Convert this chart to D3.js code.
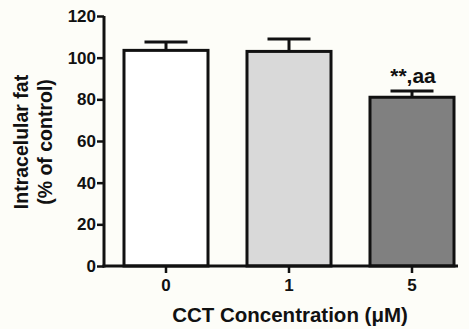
<!DOCTYPE html>
<html><head><meta charset="utf-8">
<script src="https://cdn.jsdelivr.net/npm/d3@7"></script>
<style>body{margin:0;background:#fdfdf8;}svg{display:block;}text{font-family:Arial,"Liberation Sans",sans-serif;font-weight:bold;fill:#111;}</style>
</head><body>
<script>
const categories = ["0","1","5"];
const values = [103.5, 103, 81];
const errors = [4, 6, 3];
const colors = ["#ffffff","#d9d9d9","#808080"];
const annotations = ["","","**,aa"];
const yTicks = [0,20,40,60,80,100,120];

const W=469,H=329;
const svg=d3.select("body").append("svg").attr("width",W).attr("height",H);
svg.append("rect").attr("width",W).attr("height",H).attr("fill","#fdfdf8");

const y=d3.scaleLinear().domain([0,120]).range([266,16]);
const x=d3.scaleBand().domain(categories).range([104.5,473.5]).paddingInner(0.317).paddingOuter(0.1585);

const g=svg.append("g");
g.selectAll("rect.bar").data(categories).join("rect")
 .attr("x",d=>x(d)).attr("width",x.bandwidth())
 .attr("y",(d,i)=>y(values[i])).attr("height",(d,i)=>y(0)-y(values[i]))
 .attr("fill",(d,i)=>colors[i]).attr("stroke","#111").attr("stroke-width",3);
categories.forEach((c,i)=>{
  const cx=x(c)+x.bandwidth()/2;
  g.append("line").attr("x1",cx).attr("x2",cx).attr("y1",y(values[i])).attr("y2",y(values[i]+errors[i])).attr("stroke","#111").attr("stroke-width",3);
  g.append("line").attr("x1",cx-21.5).attr("x2",cx+21.5).attr("y1",y(values[i]+errors[i])).attr("y2",y(values[i]+errors[i])).attr("stroke","#111").attr("stroke-width",3);
  if(annotations[i]) g.append("text").attr("x",cx+1).attr("y",y(values[i]+errors[i])-8).attr("text-anchor","middle").attr("font-size",21).text(annotations[i]);
});

const ya=svg.append("g").attr("transform","translate(104,0)")
 .call(d3.axisLeft(y).tickValues(yTicks).tickSize(7).tickPadding(1));
ya.select(".domain").attr("stroke","#111").attr("stroke-width",3).attr("d","M0,"+y(120)+"V"+(y(0)+1.5));
ya.selectAll(".tick line").attr("stroke","#111").attr("stroke-width",2.5);
ya.selectAll(".tick text").attr("font-size",17).attr("font-family","Arial,'Liberation Sans',sans-serif").attr("font-weight","bold").attr("fill","#111");

const xa=svg.append("g").attr("transform","translate(0,266)")
 .call(d3.axisBottom(x).tickSize(7).tickPadding(6));
xa.select(".domain").attr("stroke","#111").attr("stroke-width",3).attr("d","M102.5,0H458");
xa.selectAll(".tick line").attr("stroke","#111").attr("stroke-width",2.5);
xa.selectAll(".tick text").attr("font-size",17).attr("font-family","Arial,'Liberation Sans',sans-serif").attr("font-weight","bold").attr("fill","#111");

svg.append("text").attr("x",290).attr("y",322).attr("text-anchor","middle").attr("font-size",20.5).text("CCT Concentration (μM)");
const yt=svg.append("text").attr("transform","translate(28,142) rotate(-90)").attr("text-anchor","middle").attr("font-size",19.5);
yt.append("tspan").attr("x",0).attr("y",0).text("Intracelular fat");
yt.append("tspan").attr("x",0).attr("y",24).text("(% of control)");
</script>
</body></html>
